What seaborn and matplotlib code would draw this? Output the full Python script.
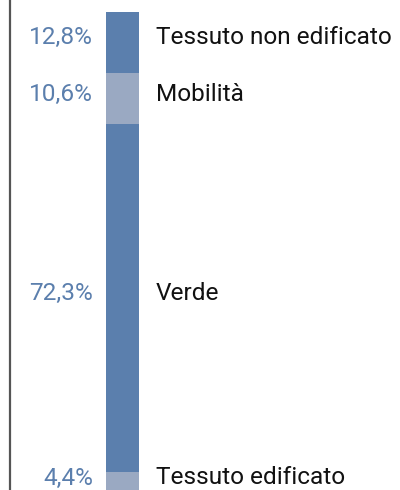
import numpy as np
import pandas as pd
import matplotlib
matplotlib.use("Agg")
import matplotlib.pyplot as plt
import seaborn as sns

# data, from bottom to top
categorie = ["Tessuto edificato", "Verde", "Mobilità", "Tessuto non edificato"]
valori = [4.4, 72.3, 10.6, 12.8]
etichette = ["4,4%", "72,3%", "10,6%", "12,8%"]
colori = ["#9aa9c2", "#5b7fad", "#9aa9c2", "#5b7fad"]

sns.set_style("white")
plt.rcParams["font.family"] = ["Roboto", "DejaVu Sans"]

df = pd.DataFrame({"categoria": categorie, "valore": valori})
df["cumulato"] = df["valore"].cumsum()
df["base"] = df["cumulato"] - df["valore"]
df["gruppo"] = "uso"

fig = plt.figure(figsize=(4, 4.9), dpi=100)
ax = fig.add_axes([0.025, 0, 0.975, 1])

# stacked bar: draw cumulative totals from top to bottom, overlapping
for i in reversed(range(len(df))):
    sns.barplot(data=df.iloc[[i]], x="gruppo", y="cumulato", color=colori[i],
                width=0.8, saturation=1, linewidth=0, edgecolor="none", ax=ax)

ax.set_xlim(-2.727, 6.727)
ax.set_ylim(0.62, 102.5)
ax.set_xlabel("")
ax.set_ylabel("")
ax.set_xticks([])
ax.set_yticks([])
for s in ["top", "right", "bottom"]:
    ax.spines[s].set_visible(False)
ax.spines["left"].set_color("#555555")
ax.spines["left"].set_linewidth(1.6)

for i, row in df.iterrows():
    centro = row["base"] + row["valore"] / 2
    ax.annotate(etichette[i], xy=(-0.4, centro), xytext=(-9.4, -1.5),
                textcoords="offset points", ha="right", va="baseline",
                fontsize=17.6, color="#5b7fad")
    ax.annotate(row["categoria"], xy=(0.4, centro), xytext=(12.2, -1.5),
                textcoords="offset points", ha="left", va="baseline",
                fontsize=17.6, color="#111111")

fig.savefig("out.png", dpi=100)
